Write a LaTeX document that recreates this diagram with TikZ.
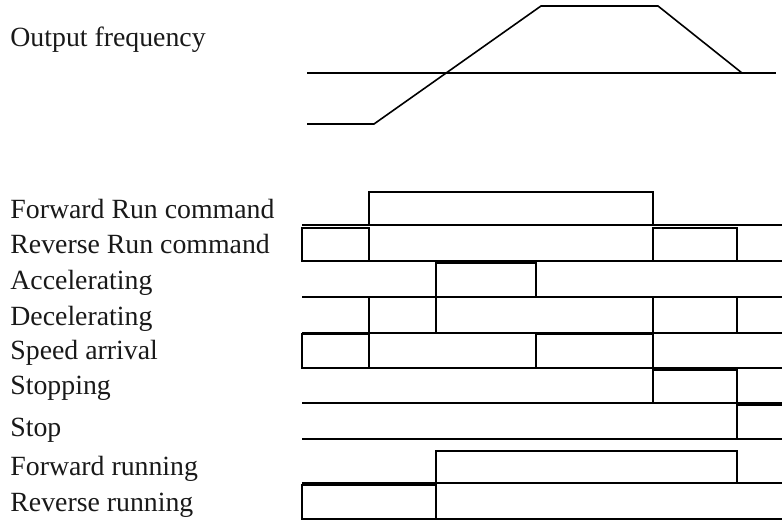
\documentclass[tikz,border=0pt]{standalone}
\usepackage{fontspec}
\setmainfont{Liberation Serif}
\usepackage{tikz}

\begin{document}
\begin{tikzpicture}[x=0.5pt, y=-0.5pt,
  sig/.style={line width=0.8pt, black, line join=miter},
  lbl/.style={anchor=base west, inner sep=0pt, text=black!90,
    font=\fontsize{13.9}{16}\selectfont}
]
\useasboundingbox (0,0) rectangle (782,522);

%─── LABELS ──────────────────────────────────────────────────────────────────
\node[lbl] (OF) at (10,47)  {Output frequency};
\node[lbl] (FR) at (10,219) {Forward Run command};
\node[lbl] (RR) at (10,254) {Reverse Run command};
\node[lbl] (AC) at (10,290) {Accelerating};
\node[lbl] (DC) at (10,326) {Decelerating};
\node[lbl] (SA) at (10,360) {Speed arrival};
\node[lbl] (SG) at (10,395) {Stopping};
\node[lbl] (ST) at (10,437) {Stop};
\node[lbl] (FG) at (10,476) {Forward running};
\node[lbl] (RG) at (10,512) {Reverse running};

%─── OUTPUT FREQUENCY ────────────────────────────────────────────────────────
\draw[sig] (307,73) -- (776,73);
\draw[sig] (307,124) -- (374,124) -- (541,6) -- (658,6) -- (742,73);

%─── SIGNALS ─────────────────────────────────────────────────────────────────
% Forward Run command
\draw[sig] (302,225) -- (782,225);
\draw[sig] (369,225) rectangle (653,192);

% Reverse Run command
\draw[sig] (302,261) -- (782,261);
\draw[sig] (302,261) rectangle (369,228) (653,261) rectangle (737,228);

% Accelerating
\draw[sig] (302,297) -- (782,297);
\draw[sig] (436,297) rectangle (536,263);

% Decelerating
\draw[sig] (302,333) -- (782,333);
\draw[sig] (369,333) rectangle (436,297) (653,333) rectangle (737,297);

% Speed arrival
\draw[sig] (302,368) -- (782,368);
\draw[sig] (302,368) rectangle (369,334) (536,368) rectangle (653,334);

% Stopping
\draw[sig] (302,403) -- (782,403);
\draw[sig] (653,403) rectangle (737,370);

% Stop
\draw[sig] (302,439) -- (782,439);
\draw[sig] (737,439) |- (782,405);

% Forward running
\draw[sig] (302,483) -- (782,483);
\draw[sig] (436,483) rectangle (737,451);

% Reverse running
\draw[sig] (302,519) -- (782,519);
\draw[sig] (302,519) rectangle (436,485);

\end{tikzpicture}
\end{document}
